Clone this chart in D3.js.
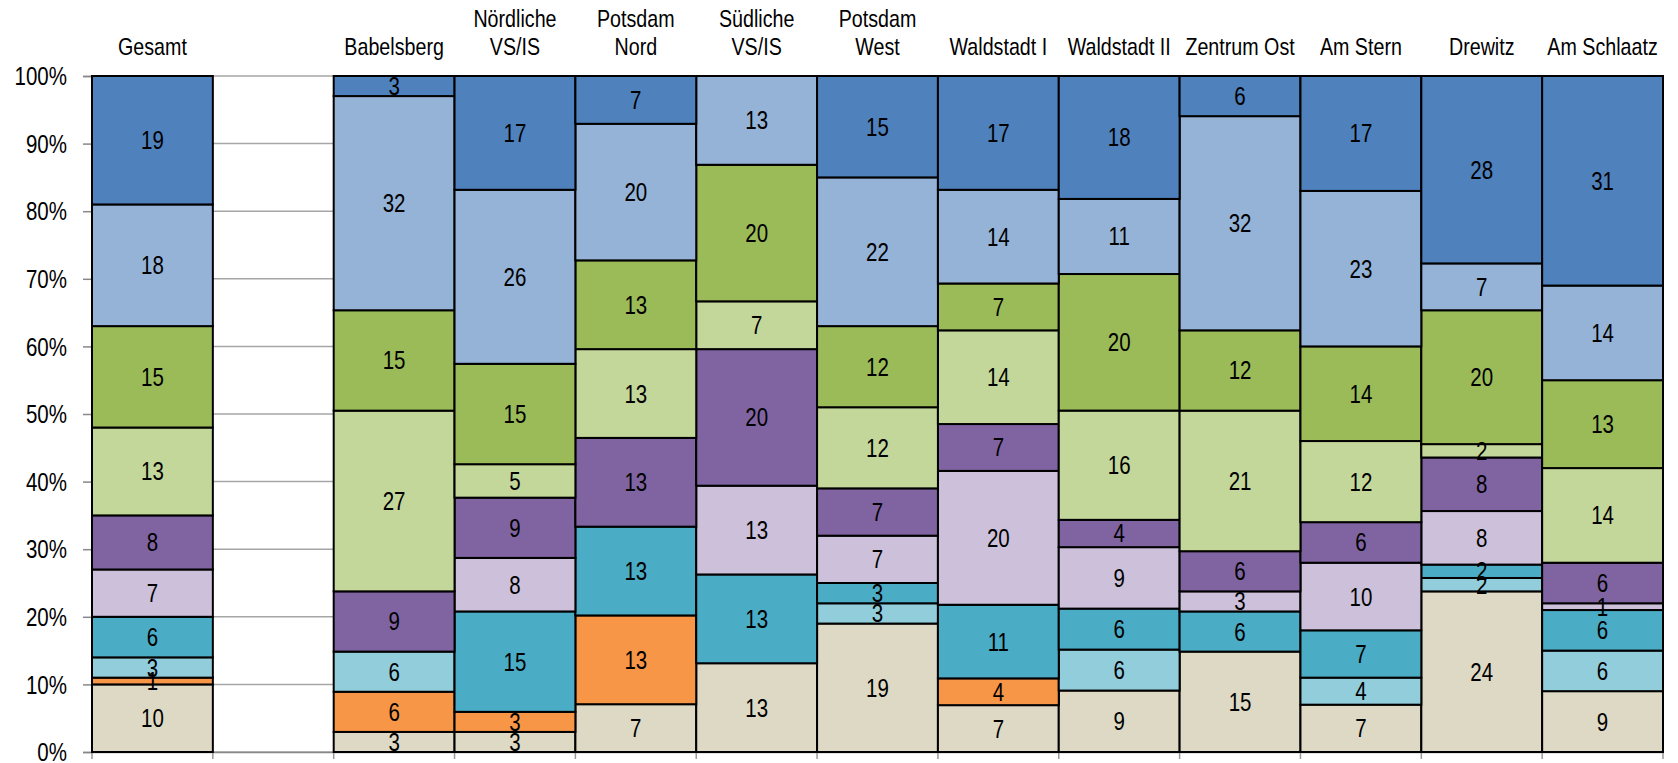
<!DOCTYPE html>
<html>
<head>
<meta charset="utf-8">
<script src="https://cdn.jsdelivr.net/npm/d3@7"></script>
<style>
  html, body { margin: 0; padding: 0; background: #fff; }
  svg { display: block; }
</style>
</head>
<body>
<svg id="chart" width="1678" height="763"></svg>
<script>
// ---- Data ----
const categories = ["Gesamt", "", "Babelsberg", "Nördliche\nVS/IS", "Potsdam\nNord", "Südliche\nVS/IS",
  "Potsdam\nWest", "Waldstadt I", "Waldstadt II", "Zentrum Ost", "Am Stern", "Drewitz", "Am Schlaatz"];

const seriesKeys = ["s1", "s2", "s3", "s4", "s5", "s6", "s7", "s8", "s9", "s10"];
const seriesColors = ["#DDD9C4", "#F79646", "#92CDDC", "#4BACC6", "#CCC0DA", "#8064A2", "#C4D79B", "#9BBB59", "#95B3D7", "#4F81BD"];

const s1  = [10, 0, 3, 3, 7, 13, 19, 7, 9, 15, 7, 24, 9];
const s2  = [1, 0, 6, 3, 13, 0, 0, 4, 0, 0, 0, 0, 0];
const s3  = [3, 0, 6, 0, 0, 0, 3, 0, 6, 0, 4, 2, 6];
const s4  = [6, 0, 0, 15, 13, 13, 3, 11, 6, 6, 7, 2, 6];
const s5  = [7, 0, 0, 8, 0, 13, 7, 20, 9, 3, 10, 8, 1];
const s6  = [8, 0, 9, 9, 13, 20, 7, 7, 4, 6, 6, 8, 6];
const s7  = [13, 0, 27, 5, 13, 7, 12, 14, 16, 21, 12, 2, 14];
const s8  = [15, 0, 15, 15, 13, 20, 12, 7, 20, 12, 14, 20, 13];
const s9  = [18, 0, 32, 26, 20, 13, 22, 14, 11, 32, 23, 7, 14];
const s10 = [19, 0, 3, 17, 7, 0, 15, 17, 18, 6, 17, 28, 31];

const yTicks = [0, 0.1, 0.2, 0.3, 0.4, 0.5, 0.6, 0.7, 0.8, 0.9, 1.0];

// ---- Build table ----
const seriesValues = [s1, s2, s3, s4, s5, s6, s7, s8, s9, s10];
const table = categories.map((c, i) => {
  const row = { cat: c };
  seriesKeys.forEach((k, j) => row[k] = seriesValues[j][i]);
  return row;
});

// ---- Font detection ----
function hasFont(name) {
  const c = document.createElement("canvas").getContext("2d");
  const t = "Babelsberg 0123456789%";
  c.font = '24px monospace';
  const a = c.measureText(t).width;
  c.font = '24px "' + name + '", monospace';
  const b = c.measureText(t).width;
  return Math.abs(a - b) > 0.5;
}
const narrow = hasFont("Liberation Sans Narrow");
const fontFamily = narrow ? '"Liberation Sans Narrow", "Arial Narrow", sans-serif' : '"Liberation Sans", Arial, sans-serif';
const xScaleFont = narrow ? 1 : 0.82;

function addText(g, x, y, txt, anchor, size) {
  return g.append("text")
    .attr("transform", `translate(${x},${y}) scale(${xScaleFont},1)`)
    .attr("text-anchor", anchor)
    .attr("font-family", fontFamily)
    .attr("font-size", size)
    .attr("fill", "#000")
    .text(txt);
}

// ---- Layout ----
const svg = d3.select("#chart");
const margin = { left: 92, right: 1678 - 1663, top: 76, bottom: 763 - 752 };
const W = 1678, H = 763;

const x = d3.scaleBand().domain(categories).range([margin.left, W - margin.right]).padding(0);
const y = d3.scaleLinear().domain([0, 1]).range([H - margin.bottom, margin.top]);

const stack = d3.stack().keys(seriesKeys).offset(d3.stackOffsetExpand);
const stacked = stack(table);

// gridlines
svg.append("g").selectAll("line").data(yTicks).join("line")
  .attr("x1", margin.left).attr("x2", W - margin.right)
  .attr("y1", d => y(d)).attr("y2", d => y(d))
  .attr("stroke", "#a6a6a6").attr("stroke-width", 1.5);

// y-axis
const yAxis = d3.axisLeft(y).tickValues(yTicks).tickFormat(d3.format(".0%")).tickSize(9).tickPadding(0);
const gy = svg.append("g").attr("transform", `translate(${margin.left},0)`).call(yAxis);
gy.select(".domain").attr("stroke", "#888").attr("stroke-width", 1.5);
gy.selectAll(".tick line").attr("stroke", "#888").attr("stroke-width", 1.5);
gy.selectAll(".tick text").remove();
gy.selectAll(".tick").each(function(d) {
  addText(d3.select(this), -25, 0, d3.format(".0%")(d), "end", 25).attr("dy", "0.35em");
});

// x-axis line and boundary ticks
const xAxis = d3.axisBottom(x).tickSize(0).tickFormat("");
const gx = svg.append("g").attr("transform", `translate(0,${y(0)})`).call(xAxis);
gx.select(".domain").attr("stroke", "#888").attr("stroke-width", 1.5);
gx.selectAll(".tick").remove();
const bounds = categories.map(c => x(c)).concat([x(categories[categories.length - 1]) + x.bandwidth()]);
gx.selectAll("line.bt").data(bounds).join("line").attr("class", "bt")
  .attr("x1", d => d).attr("x2", d => d).attr("y1", 0).attr("y2", 7)
  .attr("stroke", "#999").attr("stroke-width", 1.5);

// bars
const layers = svg.append("g").selectAll("g.layer").data(stacked).join("g")
  .attr("class", "layer")
  .attr("fill", (d, i) => seriesColors[i]);

layers.selectAll("rect").data(d => d.filter(p => p.data[d.key] > 0).map(p => Object.assign(p, { key: d.key })))
  .join("rect")
  .attr("x", d => x(d.data.cat))
  .attr("width", x.bandwidth())
  .attr("y", d => y(d[1]))
  .attr("height", d => y(d[0]) - y(d[1]))
  .attr("stroke", "#000")
  .attr("stroke-width", 2);

// value labels
const lblG = svg.append("g");
stacked.forEach(layer => {
  layer.forEach(p => {
    const v = p.data[layer.key];
    if (v > 0) {
      addText(lblG, x(p.data.cat) + x.bandwidth() / 2, (y(p[0]) + y(p[1])) / 2, String(v), "middle", 25)
        .attr("dy", "0.36em");
    }
  });
});

// category labels above plot
const catG = svg.append("g");
categories.forEach(c => {
  if (!c) return;
  const lines = c.split("\n");
  const cx = x(c) + x.bandwidth() / 2;
  lines.forEach((ln, i) => {
    const by = 55 - (lines.length - 1 - i) * 28;
    addText(catG, cx, by, ln, "middle", 24);
  });
});
</script>
</body>
</html>
